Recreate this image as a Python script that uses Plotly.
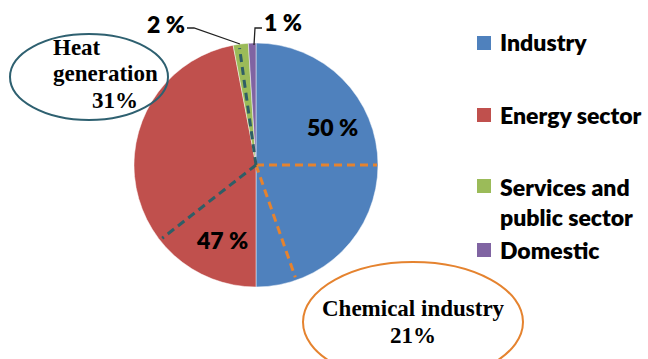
import math
import plotly.graph_objects as go

# ---- data ----
sectors = ["Industry", "Energy sector", "Services and public sector", "Domestic"]
legend_labels = ["Industry", "Energy sector", "Services and<br>public sector", "Domestic"]
shares = [50, 47, 2, 1]
colors = ["#4F81BD", "#C0504D", "#9BBB59", "#8064A2"]
sub_labels = ["Heat<br>generation", "Chemical industry"]
sub_shares = [31, 21]

W, H = 648, 359


def px(x):
    return x / W


def py(y):
    return 1 - y / H


# pie geometry (pixels)
CX, CY, R = 256, 165, 122

fig = go.Figure()
fig.add_trace(go.Pie(
    labels=sectors,
    values=shares,
    sort=False,
    direction="clockwise",
    rotation=0,
    marker=dict(colors=colors, line=dict(color="rgba(255,255,255,0.6)", width=0.8)),
    textinfo="none",
    hoverinfo="label+percent",
    showlegend=False,
    domain=dict(x=[px(CX - R), px(CX + R)], y=[py(CY + R), py(CY - R)]),
))

shapes = []
annotations = []

SANS = dict(family="Lato, 'Open Sans', sans-serif", size=23, color="#000000", weight=800)
SERIF = dict(family="'Liberation Serif', 'DejaVu Serif', serif", size=23, color="#000000", weight=700)

# percentage labels on the pie
label_pos = [(332, 127), (222, 240), (166, 24), (283, 22)]
for v, (x, y) in zip(shares, label_pos):
    annotations.append(dict(x=px(x), y=py(y), xref="paper", yref="paper",
                            text=f"{v} %", showarrow=False, font=SANS,
                            xanchor="center", yanchor="middle"))

# leader lines for small slices
leaders = [[(187, 28), (194, 28), (240, 44)], [(262, 28), (255, 28), (254, 45)]]
for pts in leaders:
    path = "M " + " L ".join(f"{px(x)},{py(y)}" for x, y in pts)
    shapes.append(dict(type="path", path=path, xref="paper", yref="paper",
                       line=dict(color="#222222", width=1.3)))


def ray(angle_deg, length, color):
    a = math.radians(angle_deg)
    x1 = CX + length * math.sin(a)
    y1 = CY - length * math.cos(a)
    shapes.append(dict(type="line", xref="paper", yref="paper",
                       x0=px(CX), y0=py(CY), x1=px(x1), y1=py(y1),
                       line=dict(color=color, width=3, dash="8px,5px")))


ORANGE = "#E5832F"
TEAL = "#2F5E66"
ray(90, R - 1, ORANGE)
ray(160.7, 119, ORANGE)
ray(352, 118, TEAL)
ray(232, 119, TEAL)

# ellipses
shapes.append(dict(type="circle", xref="paper", yref="paper",
                   x0=px(10), x1=px(168), y0=py(120), y1=py(34),
                   line=dict(color="#2E6070", width=2)))
shapes.append(dict(type="circle", xref="paper", yref="paper",
                   x0=px(303), x1=px(523), y0=py(382), y1=py(262),
                   line=dict(color=ORANGE, width=2)))

# ellipse texts
heat_lines = sub_labels[0].split("<br>")
annotations.append(dict(x=px(51), y=py(47), xref="paper", yref="paper", text=heat_lines[0],
                        showarrow=False, font=SERIF, xanchor="left", yanchor="middle"))
annotations.append(dict(x=px(51), y=py(73), xref="paper", yref="paper", text=heat_lines[1],
                        showarrow=False, font=SERIF, xanchor="left", yanchor="middle"))
annotations.append(dict(x=px(90), y=py(100), xref="paper", yref="paper", text=f"{sub_shares[0]}%",
                        showarrow=False, font=SERIF, xanchor="left", yanchor="middle"))
annotations.append(dict(x=px(414), y=py(308), xref="paper", yref="paper", text=sub_labels[1],
                        showarrow=False, font=SERIF, xanchor="center", yanchor="middle"))
annotations.append(dict(x=px(413), y=py(335), xref="paper", yref="paper", text=f"{sub_shares[1]}%",
                        showarrow=False, font=SERIF, xanchor="center", yanchor="middle"))

# custom legend
leg_y = [42, 115, 202, 250]
sq_y = [43, 115, 186, 250]
for lab, c, ty, sy in zip(legend_labels, colors, leg_y, sq_y):
    shapes.append(dict(type="rect", xref="paper", yref="paper",
                       x0=px(477), x1=px(491), y0=py(sy + 7), y1=py(sy - 7),
                       fillcolor=c, line=dict(width=0)))
    annotations.append(dict(x=px(498), y=py(ty), xref="paper", yref="paper", text=lab,
                            showarrow=False, font=SANS, xanchor="left", yanchor="middle",
                            align="left"))

fig.update_layout(
    width=W, height=H,
    margin=dict(l=0, r=0, t=0, b=0),
    paper_bgcolor="white", plot_bgcolor="white",
    shapes=shapes, annotations=annotations,
    showlegend=False,
)

fig.write_html("out.html")
